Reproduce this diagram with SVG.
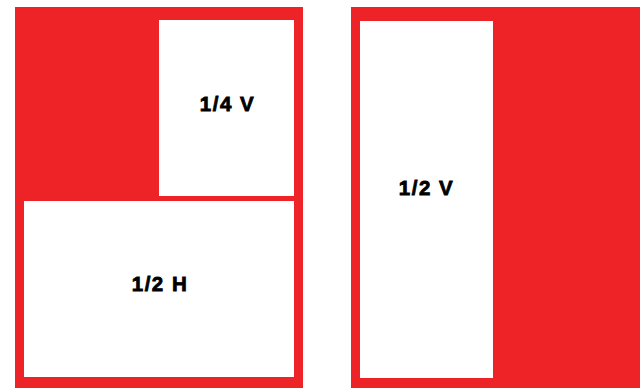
<svg xmlns="http://www.w3.org/2000/svg" width="644" height="388" viewBox="0 0 644 388">
<style>
.panel{fill:#ED2327}
.box{fill:#FFFFFF}
.lbl{font-family:"Liberation Sans",Arial,sans-serif;font-weight:bold;font-size:20.5px;letter-spacing:1.5px;fill:#000;stroke:#000;stroke-width:0.8px;text-anchor:middle}
</style>
<rect width="644" height="388" fill="#FFFFFF"/>
<g id="panel-left">
<rect class="panel" x="15" y="7" width="288" height="381"/>
</g>
<g id="box-quarter-v">
<rect class="box" x="159" y="20" width="135" height="176"/>
<text class="lbl" x="227.5" y="111">1/4 V</text>
</g>
<g id="box-half-h">
<rect class="box" x="24" y="201" width="270" height="176"/>
<text class="lbl" x="160" y="291">1/2 H</text>
</g>
<g id="panel-right">
<rect class="panel" x="351" y="7" width="289" height="381"/>
</g>
<g id="box-half-v">
<rect class="box" x="360" y="21" width="133" height="357"/>
<text class="lbl" x="426.5" y="195">1/2 V</text>
</g>
<g id="connectors"/>
</svg>
